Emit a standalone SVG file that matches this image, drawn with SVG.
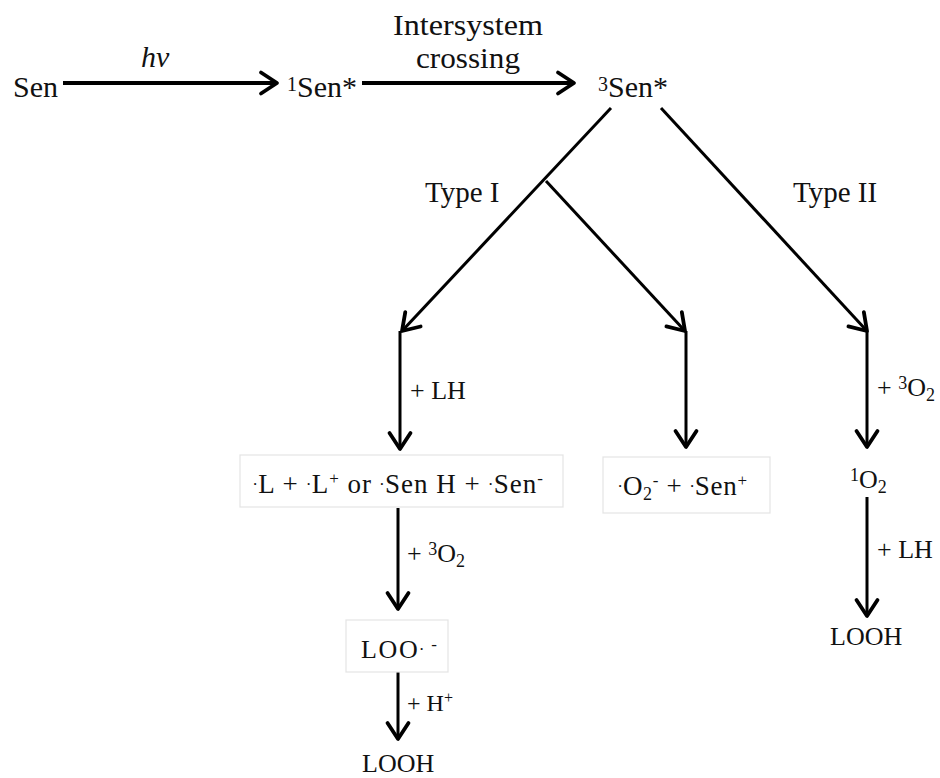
<svg xmlns="http://www.w3.org/2000/svg" width="940" height="778" viewBox="0 0 940 778">
<style>
.t{font-family:"Liberation Serif","Times New Roman",serif;fill:#111}
.top{font-size:30px}
.lab{font-size:29px}
.low{font-size:26px}
.box{fill:#fff;stroke:#e4e4e4;stroke-width:1.2}
.ln{stroke:#000;stroke-width:3;fill:none}
.thick{stroke-width:4}
</style>
<defs>
<marker id="ah" markerUnits="userSpaceOnUse" markerWidth="24" markerHeight="28" viewBox="0 0 24 28" refX="20" refY="14" orient="auto">
<path d="M4,3.5 L20,14 L4,24.5" fill="none" stroke="#000" stroke-width="3.8" stroke-linecap="round" stroke-linejoin="round"/>
</marker>
</defs>
<g id="connectors">
<line class="ln thick" x1="63" y1="83" x2="277" y2="83" marker-end="url(#ah)"/>
<line class="ln thick" x1="362" y1="83" x2="574" y2="83" marker-end="url(#ah)"/>
<line class="ln" x1="611" y1="108" x2="402" y2="331" marker-end="url(#ah)"/>
<line class="ln" x1="546" y1="181" x2="685" y2="331" marker-end="url(#ah)"/>
<line class="ln" x1="661" y1="108" x2="867" y2="331" marker-end="url(#ah)"/>
<line class="ln" x1="400" y1="331" x2="400" y2="449" marker-end="url(#ah)"/>
<line class="ln" x1="686" y1="331" x2="686" y2="447" marker-end="url(#ah)"/>
<line class="ln" x1="867" y1="331" x2="867" y2="447" marker-end="url(#ah)"/>
<line class="ln" x1="867" y1="497" x2="867" y2="616" marker-end="url(#ah)"/>
<line class="ln" x1="398" y1="508" x2="398" y2="609" marker-end="url(#ah)"/>
<line class="ln" x1="398" y1="672" x2="398" y2="739" marker-end="url(#ah)"/>
</g>
<g id="labels">
<text class="t top" x="141" y="67" font-style="italic">hv</text>
<text class="t top" x="468" y="35" text-anchor="middle" textLength="150" lengthAdjust="spacingAndGlyphs">Intersystem</text>
<text class="t top" x="468" y="68" text-anchor="middle" textLength="104" lengthAdjust="spacingAndGlyphs">crossing</text>
<text class="t lab" x="425" y="202">Type I</text>
<text class="t lab" x="793" y="202">Type II</text>
<text class="t low" x="410" y="399">+ LH</text>
<text class="t low" x="877" y="396">+ <tspan font-size="18" baseline-shift="38%">3</tspan>O<tspan font-size="18" baseline-shift="-25%">2</tspan></text>
<text class="t low" x="407" y="562">+ <tspan font-size="18" baseline-shift="38%">3</tspan>O<tspan font-size="18" baseline-shift="-25%">2</tspan></text>
<text class="t low" x="877" y="558">+ LH</text>
<text class="t" font-size="24" x="407" y="711">+ H<tspan font-size="16" baseline-shift="super">+</tspan></text>
</g>
<g id="node-sen"><text class="t top" x="13" y="97">Sen</text></g>
<g id="node-1sen"><text class="t top" x="287" y="97"><tspan font-size="20" baseline-shift="30%">1</tspan>Sen*</text></g>
<g id="node-3sen"><text class="t top" x="598" y="97"><tspan font-size="20" baseline-shift="30%">3</tspan>Sen*</text></g>
<g id="node-radicals">
<rect class="box" x="240" y="455" width="323" height="52"/>
<text class="t" font-size="27" x="253" y="493" textLength="290" lengthAdjust="spacing"><tspan font-size="17" baseline-shift="45%">.</tspan>L + <tspan font-size="17" baseline-shift="45%">.</tspan>L<tspan font-size="17" baseline-shift="super">+</tspan> or <tspan font-size="17" baseline-shift="45%">.</tspan>Sen H + <tspan font-size="17" baseline-shift="45%">.</tspan>Sen<tspan font-size="17" baseline-shift="super">-</tspan></text>
</g>
<g id="node-superoxide">
<rect class="box" x="603" y="457" width="167" height="56"/>
<text class="t" font-size="27" x="618" y="495" textLength="129" lengthAdjust="spacing"><tspan font-size="17" baseline-shift="45%">.</tspan>O<tspan font-size="18" baseline-shift="-25%">2</tspan><tspan font-size="17" baseline-shift="super">-</tspan> + <tspan font-size="17" baseline-shift="45%">.</tspan>Sen<tspan font-size="17" baseline-shift="super">+</tspan></text>
</g>
<g id="node-singlet-oxygen"><text class="t low" x="850" y="488"><tspan font-size="18" baseline-shift="38%">1</tspan>O<tspan font-size="18" baseline-shift="-25%">2</tspan></text></g>
<g id="node-looh-right"><text class="t low" x="830" y="645">LOOH</text></g>
<g id="node-loo">
<rect class="box" x="346" y="620" width="102" height="52"/>
<text class="t low" x="361" y="658" textLength="76" lengthAdjust="spacing">LOO<tspan font-size="17" baseline-shift="45%">. -</tspan></text>
</g>
<g id="node-looh-left"><text class="t low" x="362" y="772">LOOH</text></g>
</svg>
